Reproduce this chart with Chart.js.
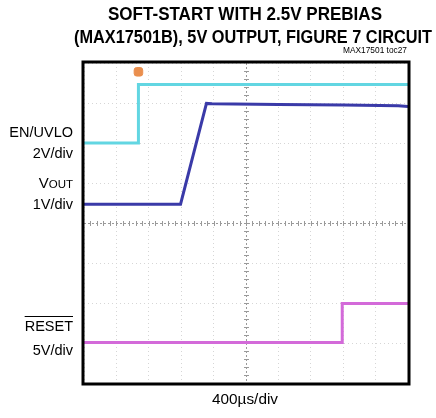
<!DOCTYPE html>
<html>
<head>
<meta charset="utf-8">
<script src="https://cdn.jsdelivr.net/npm/chart.js@4.4.0/dist/chart.umd.min.js"></script>
<style>
  html, body { margin: 0; padding: 0; background: #fff; }
</style>
</head>
<body>
<canvas id="scope" width="436" height="418"></canvas>
<script>
// Trace data, in screen divisions (10 across, 8 up)
const enTime = [0, 1.68, 1.68, 10];
const enLevel = [6.0, 6.0, 7.46, 7.46];

const voutTime = [0, 2.98, 3.78, 3.95, 6, 8, 9.7, 10];
const voutLevel = [4.47, 4.47, 6.99, 6.98, 6.96, 6.95, 6.93, 6.91];

const resetTime = [0, 7.97, 7.97, 10];
const resetLevel = [1.01, 1.01, 1.99, 1.99];

const trigTime = [1.68];
const trigLevel = [7.78];

const titleLines = ["SOFT-START WITH 2.5V PREBIAS", "(MAX17501B), 5V OUTPUT, FIGURE 7 CIRCUIT"];
const timeLabel = "400\u00b5s/div";
const tocLabel = "MAX17501 toc27";

function toPoints(xs, ys) {
    return xs.map((x, i) => ({ x: x, y: ys[i] }));
}

function trace(label, xs, ys, color) {
    return {
        label: label,
        data: toPoints(xs, ys),
        borderColor: color,
        borderWidth: 3,
        pointRadius: 0,
        tension: 0,
        borderJoinStyle: "miter",
        fill: false,
    };
}

// text squeezed to the narrow look of the original
function fitText(ctx, text, cx, y, width) {
    const w = ctx.measureText(text).width;
    ctx.save();
    ctx.translate(cx, y);
    ctx.scale(width / w, 1);
    ctx.textAlign = "center";
    ctx.fillText(text, 0, 0);
    ctx.restore();
}

const scopeDecor = {
    id: "scopeDecor",
    beforeDatasetsDraw(chart) {
        const ctx = chart.ctx;
        const xs = chart.scales.x;
        const ys = chart.scales.y;
        const cx = xs.getPixelForValue(5);
        const cy = ys.getPixelForValue(4);
        ctx.save();
        ctx.strokeStyle = "#9a9a9a";
        ctx.lineWidth = 1;
        ctx.setLineDash([2, 2]);
        ctx.beginPath();
        ctx.moveTo(xs.left, cy + 0.5);
        ctx.lineTo(xs.right, cy + 0.5);
        ctx.moveTo(cx + 0.5, ys.top);
        ctx.lineTo(cx + 0.5, ys.bottom);
        ctx.stroke();
        ctx.setLineDash([]);
        ctx.beginPath();
        for (let v = 0.2; v < 10; v += 0.2) {
            const px = Math.round(xs.getPixelForValue(v)) + 0.5;
            ctx.moveTo(px, cy - 2);
            ctx.lineTo(px, cy + 3);
        }
        for (let v = 0.2; v < 8; v += 0.2) {
            const py = Math.round(ys.getPixelForValue(v)) + 0.5;
            ctx.moveTo(cx - 2, py);
            ctx.lineTo(cx + 3, py);
        }
        ctx.stroke();
        ctx.restore();
    },
    afterDraw(chart) {
        const ctx = chart.ctx;
        const a = chart.chartArea;
        ctx.save();
        ctx.strokeStyle = "#000";
        ctx.lineWidth = 3;
        ctx.strokeRect(a.left - 1, a.top - 1, a.right - a.left + 2, a.bottom - a.top + 2);

        ctx.fillStyle = "#000";
        ctx.textBaseline = "middle";
        ctx.font = "bold 18px 'Liberation Sans Narrow', 'Liberation Sans', Arial, sans-serif";
        fitText(ctx, titleLines[0], 245, 15, 274);
        fitText(ctx, titleLines[1], 253, 38, 358);

        ctx.font = "9px 'Liberation Sans', Arial, sans-serif";
        fitText(ctx, tocLabel, 375, 51, 64);

        ctx.font = "15px 'Liberation Sans', Arial, sans-serif";
        fitText(ctx, timeLabel, 245, 400, 66);

        // channel labels on the left
        const rx = 73;
        ctx.textAlign = "right";
        ctx.textBaseline = "alphabetic";
        ctx.font = "14.5px 'Liberation Sans', Arial, sans-serif";
        ctx.fillText("EN/UVLO", rx, 137);
        ctx.fillText("2V/div", rx, 158);

        ctx.font = "11.5px 'Liberation Sans', Arial, sans-serif";
        const outW = ctx.measureText("OUT").width;
        ctx.fillText("OUT", rx, 188);
        ctx.font = "15px 'Liberation Sans', Arial, sans-serif";
        ctx.fillText("V", rx - outW, 188);
        ctx.font = "14.5px 'Liberation Sans', Arial, sans-serif";
        ctx.fillText("1V/div", rx, 209);

        const rw = ctx.measureText("RESET").width;
        ctx.fillText("RESET", rx, 331);
        ctx.lineWidth = 1;
        ctx.beginPath();
        ctx.moveTo(rx - rw, 316.5);
        ctx.lineTo(rx, 316.5);
        ctx.stroke();
        ctx.fillText("5V/div", rx, 355);
        ctx.restore();
    },
};

const gridOpts = {
    color: "#d6d6d6",
    lineWidth: 1,
    drawTicks: false,
};

new Chart(document.getElementById("scope"), {
    type: "line",
    data: {
        datasets: [
            trace("EN/UVLO", enTime, enLevel, "#62d6e2"),
            trace("VOUT", voutTime, voutLevel, "#3a3aa8"),
            trace("RESET", resetTime, resetLevel, "#d36ad9"),
            {
                label: "trigger",
                data: toPoints(trigTime, trigLevel),
                showLine: false,
                pointStyle: "rectRounded",
                pointRadius: 5,
                pointBackgroundColor: "#ea8f4e",
                pointBorderColor: "#ea8f4e",
                clip: false,
            },
        ],
    },
    options: {
        responsive: false,
        animation: false,
        layout: { padding: { left: 84, right: 28, top: 63, bottom: 35 } },
        plugins: {
            legend: { display: false },
            tooltip: { enabled: false },
            title: { display: false },
        },
        scales: {
            x: {
                type: "linear",
                min: 0,
                max: 10,
                ticks: { display: false, stepSize: 1 },
                grid: gridOpts,
                border: { display: false, dash: [1, 3] },
            },
            y: {
                type: "linear",
                min: 0,
                max: 8,
                ticks: { display: false, stepSize: 1 },
                grid: gridOpts,
                border: { display: false, dash: [1, 3] },
            },
        },
    },
    plugins: [scopeDecor],
});
</script>
</body>
</html>
